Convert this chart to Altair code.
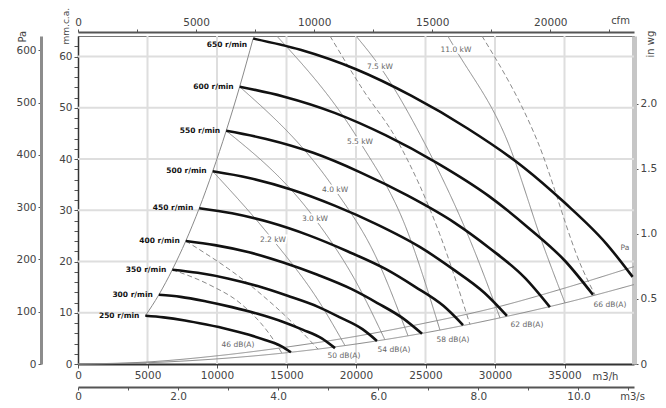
import altair as alt
import pandas as pd

# ---------------- data ----------------
speeds = [250, 300, 350, 400, 450, 500, 550, 600, 650]

q_250 = [4846, 6154, 7692, 9231, 10769, 12308, 13462, 14615, 15320]
p_250 = [9.4, 9.1, 8.5, 7.7, 6.8, 5.7, 4.7, 3.5, 2.3]
q_300 = [5815, 7385, 9231, 11077, 12923, 14769, 16154, 17538, 18490]
p_300 = [13.5, 13.1, 12.2, 11.1, 9.8, 8.2, 6.7, 5.0, 3.1]
q_350 = [6785, 8615, 10769, 12923, 15077, 17231, 18846, 20462, 21510]
p_350 = [18.4, 17.8, 16.7, 15.2, 13.3, 11.2, 9.1, 6.8, 4.5]
q_400 = [7754, 9846, 12308, 14769, 17231, 19692, 21538, 23385, 24750]
p_400 = [24.0, 23.2, 21.8, 19.8, 17.4, 14.6, 11.9, 8.9, 5.9]
q_450 = [8723, 11077, 13846, 16615, 19385, 22154, 24231, 26308, 27700]
p_450 = [30.4, 29.4, 27.6, 25.1, 22.0, 18.5, 15.1, 11.3, 7.6]
q_500 = [9692, 12308, 15385, 18462, 21538, 24615, 26923, 29231, 30860]
p_500 = [37.6, 36.3, 34.0, 30.9, 27.2, 22.8, 18.6, 13.9, 9.4]
q_550 = [10662, 13538, 16923, 20308, 23692, 27077, 29615, 32154, 33950]
p_550 = [45.5, 43.9, 41.2, 37.4, 32.9, 27.6, 22.6, 16.8, 11.1]
q_600 = [11631, 14769, 18462, 22154, 25846, 29538, 32308, 35077, 37050]
p_600 = [54.1, 52.2, 49.0, 44.6, 39.2, 32.8, 26.8, 20.0, 13.5]
q_650 = [12600, 16000, 20000, 24000, 28000, 32000, 35000, 38000, 39900]
p_650 = [63.5, 61.3, 57.5, 52.3, 46.0, 38.5, 31.5, 23.5, 17.0]

curve_q = [q_250, q_300, q_350, q_400, q_450, q_500, q_550, q_600, q_650]
curve_p = [p_250, p_300, p_350, p_400, p_450, p_500, p_550, p_600, p_650]

# labels of the speed curves
rpm_label_p = [9.4, 13.5, 18.4, 24.0, 30.4, 37.6, 45.5, 54.1, 62.3]

# dynamic pressure line ("Pa") and end-of-curve line
pa_q = [0, 5000, 10000, 15000, 20000, 25000, 30000, 35000, 40000]
pa_p = [0, 0.4, 1.6, 3.3, 5.4, 8.0, 11.0, 14.8, 19.0]
end_q = [0, 5000, 10000, 15000, 20000, 25000, 30000, 35000, 40000]
end_p = [0, 0.25, 1.0, 2.2, 3.9, 6.1, 8.8, 11.9, 15.5]

# power lines (solid, labelled) and dashed lines
kw_names = ["2.2 kW", "3.0 kW", "4.0 kW", "5.5 kW", "7.5 kW", "11.0 kW"]
kw_q = [
    [9692, 14028, 17266, 19208],
    [10662, 17050, 19927, 22086],
    [11631, 18490, 21366, 23740],
    [14300, 20287, 23524, 26042],
    [20000, 21726, 24819, 28200, 30359],
    [26600, 27190, 30862, 33596, 35035],
]
kw_p = [
    [37.6, 24.2, 12.5, 3.6],
    [45.5, 28.3, 16.4, 4.7],
    [54.1, 34.0, 21.3, 5.5],
    [64.0, 43.3, 27.1, 6.6],
    [64.0, 58.0, 43.7, 24.2, 9.0],
    [64.0, 61.3, 43.7, 22.2, 11.9],
]
kw_label_q = [14028, 17050, 18490, 20287, 21726, 27190]
kw_label_p = [24.2, 28.3, 34.0, 43.3, 58.0, 61.3]

dash_q = [
    [18129, 20503, 22949, 26042, 28200],
    [29064, 33020, 36330, 37193],
    [6785, 9496, 11654, 13812, 14676],
    [7754, 12374, 15971, 17266],
]
dash_p = [
    [64.0, 53.5, 43.7, 25.2, 7.7],
    [64.0, 43.7, 18.3, 13.5],
    [18.4, 15.4, 11.9, 5.7, 2.1],
    [24.0, 15.4, 6.6, 2.9],
]

db_names = ["46 dB(A)", "50 dB(A)", "54 dB(A)", "58 dB(A)", "62 dB(A)", "66 dB(A)"]
db_q = [11510, 19136, 22733, 26978, 32301, 38272]
db_p = [3.7, 1.6, 2.7, 4.7, 7.6, 11.5]

grid_q = [5000, 10000, 15000, 20000, 25000, 30000, 35000]
grid_p = [10, 20, 30, 40, 50, 60]

# axis tick values
mmh_ticks = [0, 5000, 10000, 15000, 20000, 25000, 30000, 35000]
mm_ticks = list(range(0, 64, 2))
cfm_ticks = [0, 2500, 5000, 7500, 10000, 12500, 15000, 17500, 20000, 22500]
m3s_ticks = [0, 1, 2, 3, 4, 5, 6, 7, 8, 9, 10, 11]
pa_ticks = [0, 100, 200, 300, 400, 500, 600]
inwg_ticks = [0, 0.5, 1.0, 1.5, 2.0]

Q_MAX = 40000          # m3/h
P_MAX = 64             # mm w.c.

# ---------------- tables ----------------
rows = []
for s, qs, ps in zip(speeds, curve_q, curve_p):
    for i, (q, p) in enumerate(zip(qs, ps)):
        rows.append({"speed": s, "q": q, "p": p, "i": i})
curves_df = pd.DataFrame(rows)

surge_df = pd.DataFrame({"q": [c[0] for c in curve_q], "p": [c[0] for c in curve_p],
                         "i": list(range(len(speeds)))})
rpm_df = pd.DataFrame({"q": [c[0] for c in curve_q], "p": rpm_label_p,
                       "t": [f"{s} r/min" for s in speeds]})

thin_rows = []
for k, (qs, ps) in enumerate(zip(kw_q, kw_p)):
    for i, (q, p) in enumerate(zip(qs, ps)):
        thin_rows.append({"g": f"kw{k}", "q": q, "p": p, "i": i, "dash": "solid"})
for k, (qs, ps) in enumerate(zip(dash_q, dash_p)):
    for i, (q, p) in enumerate(zip(qs, ps)):
        thin_rows.append({"g": f"d{k}", "q": q, "p": p, "i": i, "dash": "dashed"})
for i, (q, p) in enumerate(zip(pa_q, pa_p)):
    thin_rows.append({"g": "pa", "q": q, "p": p, "i": i, "dash": "solid"})
for i, (q, p) in enumerate(zip(end_q, end_p)):
    thin_rows.append({"g": "end", "q": q, "p": p, "i": i, "dash": "solid"})
thin_df = pd.DataFrame(thin_rows)

kwlab_df = pd.DataFrame({"q": kw_label_q, "p": kw_label_p, "t": kw_names})
db_df = pd.DataFrame({"q": db_q + [39351], "p": db_p + [22.6], "t": db_names + ["Pa"]})
gq_df = pd.DataFrame({"q": grid_q})
gp_df = pd.DataFrame({"p": grid_p})

# ---------------- encodings ----------------
FONT = "DejaVu Sans"
xs = alt.Scale(domain=[0, Q_MAX], nice=False, zero=False)
ys = alt.Scale(domain=[0, P_MAX], nice=False, zero=False)

x_axis = alt.Axis(orient="bottom", values=mmh_ticks, labelExpr="datum.value", grid=False,
                  title="m3/h", titleX=527, titleY=12, titleAlign="center",
                  titleBaseline="middle", tickSize=4, domainWidth=2, domainColor="#333",
                  labelFlush=False, labelOverlap=False)
y_axis = alt.Axis(orient="left", values=mm_ticks,
                  labelExpr="datum.value % 10 == 0 ? datum.value : ''", grid=False,
                  title="mm.c.a.", titleX=-13, titleY=8, titleAngle=270, titleAlign="left",
                  titleBaseline="middle", titleFontSize=9, tickSize=4, domainWidth=1.5,
                  domainColor="#333", labelOverlap=False)


def X():
    return alt.X("q:Q", scale=xs, axis=x_axis)


def Y():
    return alt.Y("p:Q", scale=ys, axis=y_axis)


grid_v = alt.Chart(gq_df).mark_rule(color="#dedede", strokeWidth=2).encode(x=X())
grid_h = alt.Chart(gp_df).mark_rule(color="#dedede", strokeWidth=2).encode(y=Y())

thin = alt.Chart(thin_df).mark_line(color="#8a8a8a", strokeWidth=1,
                                    interpolate="monotone").encode(
    x=X(), y=Y(), detail="g:N", order="i:Q",
    strokeDash=alt.StrokeDash("dash:N", scale=alt.Scale(domain=["solid", "dashed"],
                                                        range=[[1, 0], [5, 3]]), legend=None),
)
surge = alt.Chart(surge_df).mark_line(color="#8a8a8a", strokeWidth=1,
                                      interpolate="monotone").encode(
    x=X(), y=Y(), order="i:Q")
curves = alt.Chart(curves_df).mark_line(color="#111", strokeWidth=2.6,
                                        interpolate="monotone").encode(
    x=X(), y=Y(), detail="speed:N", order="i:Q")

rpm_text = alt.Chart(rpm_df).mark_text(align="right", baseline="middle", dx=-6, font=FONT,
                                       fontSize=7.5, fontWeight="bold", color="#111").encode(
    x=X(), y=Y(), text="t:N")
kw_halo = alt.Chart(kwlab_df).mark_text(align="center", baseline="middle", font=FONT,
                                        fontSize=7.5, color="white", stroke="white",
                                        strokeWidth=4).encode(x=X(), y=Y(), text="t:N")
kw_text = alt.Chart(kwlab_df).mark_text(align="center", baseline="middle", font=FONT,
                                        fontSize=7.5, color="#666").encode(
    x=X(), y=Y(), text="t:N")
db_text = alt.Chart(db_df).mark_text(align="center", baseline="middle", font=FONT,
                                     fontSize=7.5, color="#666").encode(
    x=X(), y=Y(), text="t:N")

main = alt.layer(grid_v, grid_h, thin, surge, curves, rpm_text, kw_halo, kw_text, db_text)

# extra unit axes
axA_df = pd.DataFrame({"cfm": [0], "pa": [0]})
axB_df = pd.DataFrame({"m3s": [0], "inwg": [0]})

axA = alt.Chart(axA_df).mark_point(opacity=0).encode(
    x=alt.X("cfm:Q", scale=alt.Scale(domain=[0, Q_MAX / 1.69901], nice=False, zero=False),
            axis=alt.Axis(orient="top", offset=4, values=cfm_ticks,
                          labelExpr="datum.value % 5000 == 0 ? datum.value : ''",
                          title="cfm", titleX=542, titleY=-12, titleAlign="center",
                          titleBaseline="middle", tickSize=3, domainWidth=2,
                          domainColor="#555", labelFlush=False, labelOverlap=False, grid=False)),
    y=alt.Y("pa:Q", scale=alt.Scale(domain=[0, P_MAX * 9.80665], nice=False, zero=False),
            axis=alt.Axis(orient="left", offset=37, values=pa_ticks, labelExpr="datum.value",
                          title="Pa", titleX=-19, titleY=6, titleAngle=270, titleAlign="left",
                          titleBaseline="middle", tickSize=3, domainWidth=3,
                          domainColor="#8c8c8c", grid=False, labelOverlap=False)),
)
axB = alt.Chart(axB_df).mark_point(opacity=0).encode(
    x=alt.X("m3s:Q", scale=alt.Scale(domain=[0, Q_MAX / 3600], nice=False, zero=False),
            axis=alt.Axis(orient="bottom", offset=23, values=m3s_ticks,
                          labelExpr="datum.value == 0 ? '0' : (datum.value % 2 == 0 ? format(datum.value, '.1f') : '')",
                          title="m3/s", titleX=554, titleY=9, titleAlign="center",
                          titleBaseline="middle", tickSize=3, domainWidth=2, labelPadding=1,
                          domainColor="#555", labelFlush=False, labelOverlap=False, grid=False)),
    y=alt.Y("inwg:Q", scale=alt.Scale(domain=[0, P_MAX / 25.4], nice=False, zero=False),
            axis=alt.Axis(orient="right", values=inwg_ticks,
                          labelExpr="datum.value == 0 ? '0' : format(datum.value, '.1f')",
                          title="in wg", titleX=16, titleY=21, titleAngle=270, titleAlign="left",
                          titleBaseline="middle", tickSize=4, domainWidth=5,
                          domainColor="#c6c6c6", grid=False, labelOverlap=False)),
)

chart = alt.layer(main, axA, axB).resolve_scale(x="independent", y="independent").properties(
    width=556, height=328,
    autosize=alt.AutoSizeParams(type="none"),
    padding={"left": 70, "top": 28, "right": 24, "bottom": 44},
).configure_view(stroke="#777", strokeWidth=1).configure_axis(
    labelFont=FONT, labelFontSize=10.5, labelColor="#444", titleFont=FONT, titleFontSize=10,
    titleColor="#444", titleFontWeight="normal", tickColor="#555", labelPadding=2,
)

chart.save("out.html", embed_options={"renderer": "svg", "actions": False})
